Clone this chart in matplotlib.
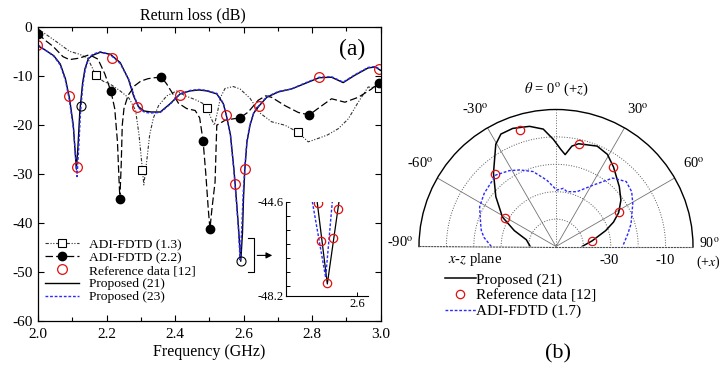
import numpy as np
import matplotlib
matplotlib.use('Agg')
import matplotlib.pyplot as plt
from matplotlib.ticker import MultipleLocator, FixedLocator

plt.rcParams['font.family'] = ['Liberation Serif', 'DejaVu Serif']
plt.rcParams['mathtext.fontset'] = 'stix'
plt.rcParams['axes.unicode_minus'] = False

# ---------------- (a) Return loss data ----------------
f21 = [2.000, 2.020, 2.046, 2.065, 2.080, 2.092, 2.103, 2.112, 2.117, 2.122,
       2.130, 2.137, 2.147, 2.160, 2.182, 2.211, 2.240, 2.264, 2.279, 2.293,
       2.310, 2.330, 2.357, 2.386, 2.415, 2.444, 2.470, 2.493, 2.522, 2.541,
       2.550, 2.562, 2.572, 2.578, 2.585, 2.592, 2.597, 2.600, 2.604, 2.610,
       2.619, 2.630, 2.645, 2.668, 2.702, 2.740, 2.779, 2.821, 2.857, 2.891,
       2.925, 2.964, 2.985, 3.000]
db21 = [-3.8, -4.6, -5.8, -7.5, -10.5, -14.5, -20.0, -29.0, -24.0, -17.3,
        -11.5, -8.5, -6.4, -5.7, -5.1, -5.5, -7.2, -10.6, -14.0, -16.2,
        -17.1, -17.3, -17.3, -15.6, -13.6, -13.0, -12.8, -13.0, -13.6, -15.6,
        -18.0, -22.0, -29.0, -34.0, -40.5, -47.8, -42.0, -35.0, -28.9, -23.5,
        -20.0, -17.5, -16.1, -14.3, -13.2, -12.6, -11.5, -10.3, -10.2, -11.3,
        -9.8, -8.3, -8.1, -8.8]

f23 = [2.000, 2.020, 2.046, 2.065, 2.080, 2.092, 2.104, 2.114, 2.119, 2.124,
       2.131, 2.138, 2.148, 2.160, 2.182, 2.211, 2.240, 2.266, 2.282, 2.296,
       2.312, 2.330, 2.357, 2.386, 2.415, 2.444, 2.470, 2.493, 2.522, 2.541,
       2.550, 2.562, 2.572, 2.578, 2.585, 2.590, 2.595, 2.599, 2.604, 2.610,
       2.619, 2.630, 2.645, 2.668, 2.702, 2.740, 2.779, 2.821, 2.857, 2.891,
       2.925, 2.964, 2.985, 3.000]
db23 = [-3.6, -4.6, -5.9, -7.7, -10.8, -15.0, -21.0, -30.5, -24.5, -17.5,
        -11.8, -8.6, -6.3, -5.5, -5.0, -5.6, -7.4, -10.8, -14.3, -16.6,
        -17.4, -17.5, -17.4, -15.7, -13.6, -12.9, -12.7, -12.9, -13.5, -15.5,
        -18.0, -22.2, -29.3, -34.5, -41.0, -47.5, -41.0, -34.0, -28.5, -23.2,
        -19.8, -17.4, -16.0, -14.2, -13.1, -12.6, -11.4, -10.2, -10.1, -11.2,
        -9.7, -8.2, -8.0, -8.7]

fref = [1.997, 2.091, 2.113, 2.215, 2.290, 2.416, 2.549, 2.576, 2.604, 2.645, 2.821, 2.997]
dbref = [-3.7, -14.1, -28.5, -6.2, -16.3, -13.8, -17.9, -32.0, -29.0, -16.1, -10.2, -8.6]

fblk = [2.127, 2.593]
dbblk = [-16.0, -47.8]

f22 = [2.000, 2.020, 2.044, 2.073, 2.092, 2.121, 2.150, 2.175, 2.195, 2.213,
       2.224, 2.232, 2.236, 2.239, 2.243, 2.246, 2.251, 2.263, 2.283, 2.300,
       2.321, 2.340, 2.360, 2.375, 2.391, 2.410, 2.434, 2.459, 2.472, 2.482,
       2.490, 2.497, 2.502, 2.508, 2.517, 2.522, 2.546, 2.570, 2.590, 2.614,
       2.643, 2.665, 2.682, 2.721, 2.760, 2.792, 2.823, 2.857, 2.896, 2.935,
       2.974, 2.995]
db22 = [-1.3, -2.6, -3.9, -6.0, -6.6, -6.3, -5.6, -6.5, -9.5, -13.1,
        -16.6, -23.4, -30.2, -35.0, -28.0, -20.0, -16.6, -13.9, -11.9, -11.0,
        -10.5, -10.3, -10.2, -11.5, -13.3, -15.5, -16.6, -17.0, -18.5, -23.2,
        -30.0, -37.0, -41.2, -37.0, -31.6, -20.0, -19.0, -18.7, -18.5, -17.3,
        -14.9, -14.0, -14.3, -16.0, -17.4, -17.9, -16.3, -14.6, -15.3, -14.3,
        -12.6, -11.3]
f22m = [2.000, 2.213, 2.239, 2.360, 2.482, 2.502, 2.590, 2.792, 2.995]
db22m = [-1.3, -13.1, -35.0, -10.2, -23.2, -41.2, -18.5, -17.9, -11.3]

f13 = [2.000, 2.053, 2.092, 2.121, 2.145, 2.169, 2.190, 2.215, 2.240, 2.266,
       2.285, 2.295, 2.302, 2.309, 2.318, 2.326, 2.337, 2.352, 2.376, 2.405,
       2.430, 2.460, 2.480, 2.493, 2.505, 2.515, 2.525, 2.533, 2.546, 2.570,
       2.590, 2.619, 2.648, 2.682, 2.721, 2.758, 2.789, 2.818, 2.845, 2.877,
       2.906, 2.935, 2.964, 2.995]
db13 = [-0.3, -2.9, -4.9, -5.5, -6.3, -9.8, -11.0, -11.8, -13.0, -14.5,
        -17.0, -22.0, -27.0, -32.2, -27.0, -22.0, -18.5, -16.0, -14.0, -13.0,
        -14.0, -14.8, -15.5, -16.5, -18.5, -20.0, -17.0, -14.3, -12.5, -12.1,
        -12.6, -14.5, -17.5, -19.3, -20.0, -21.4, -23.4, -22.7, -22.0, -20.7,
        -18.7, -15.3, -12.2, -12.4]
f13m = [2.169, 2.304, 2.493, 2.758, 2.995]
db13m = [-9.8, -29.2, -16.5, -21.4, -12.4]

# inset (zoom of second resonance)
ins_f21 = [2.5879, 2.5910, 2.5945]
ins_db21 = [-44.55, -47.75, -44.6]
ins_f23 = [2.5865, 2.5905, 2.5925]
ins_db23 = [-44.6, -47.5, -44.6]
ins_fref = [2.5881, 2.5891, 2.5910, 2.5928, 2.5941]
ins_dbref = [-44.66, -46.11, -47.73, -46.0, -44.88]

# ---------------- (b) Radiation pattern data ----------------
th21 = [90, 81.0, 72.3, 67.0, 61.6, 54.5, 46.6, 35.9, 29.2, 22.3, 12.4, 9.0, 5.7,
        2.8, -1.4, -6.2, -12.4, -20.1, -26.1, -30.5, -40.4, -50.4, -61.2,
        -69.1, -77.2, -90]
r21 = [-40.5, -36.6, -31.0, -27.2, -24.0, -20.9, -18.2, -14.2, -11.5, -10.4, -11.6,
       -12.9, -16.3, -14.5, -10.9, -6.9, -5.1, -4.1, -4.3, -6.7, -14.8, -21.5,
       -27.7, -33.7, -38.9, -40.6]
th_ref = [-60.5, -40.2, -17.1, 12.4, 35.6, 61.4, 81.0]
r_ref = [-28.7, -15.4, -5.4, -11.6, -14.3, -24.0, -36.6]
th17 = [-90, -82.8, -77.8, -73.3, -62.6, -53.5, -40.0, -31.6, -25.3, -17.0, -8.0,
        0.7, 7.2, 11.2, 20.9, 31.4, 39.6, 47.2, 54.1, 60.8, 73.2, 80.1, 90]
r17 = [-26.4, -23.5, -22.1, -21.3, -18.6, -17.4, -15.9, -17.5, -19.1, -21.4,
       -25.5, -29.4, -28.6, -29.6, -28.6, -23.7, -17.6, -15.1, -15.9, -17.9,
       -21.4, -23.4, -25.7]
ring_values = [-40, -30, -20, -10]
spoke_angles = [-60, -30, 30, 60]

W, H = 722, 368
fig = plt.figure(figsize=(W / 100, H / 100), dpi=100)


def fx(px):
    return px / W


def fy(py):
    return 1 - py / H


# ---------------- panel (a) ----------------
L, R_, T, B = 38.0, 380.5, 27.3, 321.0
ax = fig.add_axes([fx(L), fy(B), (R_ - L) / W, (B - T) / H])
l13, = ax.plot(f13, db13, color='0.2', lw=0.8, ls=(0, (3, 1.5, 1, 1.5, 1, 1.5)))
l22, = ax.plot(f22, db22, color='black', lw=0.9, ls=(0, (6, 2.5)))
p21, = ax.plot(f21, db21, color='black', lw=1.0, label='Proposed (21)')
p23, = ax.plot(f23, db23, color='#2a2aff', lw=1.0, ls=(0, (2, 1.3)), label='Proposed (23)')
m13, = ax.plot(f13m, db13m, ls='none', marker='s', ms=5.5, mfc='white', mec='black', mew=0.8)
m22, = ax.plot(f22m, db22m, ls='none', marker='o', ms=6, mfc='black', mec='black')
ax.plot(fblk, dbblk, ls='none', marker='o', ms=6.5, mfc='none', mec='black', mew=0.8)
ref, = ax.plot(fref, dbref, ls='none', marker='o', ms=7, mfc='none', mec='#e01010', mew=0.9)

ax.set_xlim(2.0, 3.0)
ax.set_ylim(-60, 0)
ax.xaxis.set_major_locator(MultipleLocator(0.2))
ax.xaxis.set_minor_locator(MultipleLocator(0.1))
ax.yaxis.set_major_locator(MultipleLocator(10))
ax.tick_params(which='both', direction='in', top=True, right=True, labelsize=11)
ax.tick_params(which='major', length=4, width=0.8)
ax.tick_params(which='minor', length=3, width=0.8)
ax.tick_params(axis='x', pad=5)
ax.tick_params(axis='y', pad=4)
for s in ax.spines.values():
    s.set_linewidth(0.9)
ax.set_xlabel('Frequency (GHz)', fontsize=11.5, labelpad=2)
fig.text(fx(193), fy(15), 'Return loss (dB)', fontsize=11.5, ha='center', va='center')
ax.text(2.955, -4.6, '(a)', fontsize=17, ha='right', va='center')

# bracket + arrow pointing to the inset
ax.plot([2.614, 2.632, 2.632, 2.614], [-43.0, -43.0, -50.0, -50.0], color='black', lw=0.8)
ax.annotate('', xy=(2.692, -46.6), xytext=(2.632, -46.6),
            arrowprops=dict(arrowstyle='-|>', color='black', lw=0.8, mutation_scale=9))

leg = ax.legend([(l13, m13), (l22, m22), ref, p21, p23],
                ['ADI-FDTD (1.3)', 'ADI-FDTD (2.2)', 'Reference data [12]',
                 'Proposed (21)', 'Proposed (23)'],
                loc='upper left', bbox_to_anchor=(fx(45), fy(238.5)),
                bbox_transform=fig.transFigure, frameon=False, fontsize=9.7,
                handlelength=2.5, handletextpad=0.8, labelspacing=0.05,
                borderpad=0, borderaxespad=0, numpoints=1)

# inset
ia_l, ia_r, ia_t, ia_b = 286.0, 368.3, 201.7, 295.7
axi = fig.add_axes([fx(ia_l), fy(ia_b), (ia_r - ia_l) / W, (ia_b - ia_t) / H])
axi.patch.set_visible(False)
axi.plot(ins_f21, ins_db21, color='black', lw=0.9)
axi.plot(ins_f23, ins_db23, color='#2a2aff', lw=1.0, ls=(0, (2, 1.3)))
axi.plot(ins_fref, ins_dbref, ls='none', marker='o', ms=6, mfc='none', mec='#e01010', mew=0.9)
axi.set_xlim(2.5786, 2.6033)
axi.set_ylim(-48.2, -44.6)
axi.spines['top'].set_visible(False)
axi.spines['right'].set_visible(False)
axi.set_yticks([-44.6, -48.2])
axi.set_yticklabels(['-44.6', '-48.2'])
axi.yaxis.set_minor_locator(FixedLocator([-45.14, -45.67, -46.21, -46.74, -47.28, -47.81]))
axi.set_xticks([2.6])
axi.set_xticklabels(['2.6'])
axi.tick_params(which='both', direction='in', labelsize=9, length=3, width=0.7, pad=2)
for s in axi.spines.values():
    s.set_linewidth(0.8)

# ---------------- panel (b) ----------------
cx, cy, Rp = 556.0, 246.5, 137.0
axp = fig.add_axes([fx(cx - Rp), fy(cy + Rp / 2), 2 * Rp / W, 2 * Rp / H], projection='polar')
axp.set_theta_zero_location('N')
axp.set_theta_direction(-1)
axp.set_thetamin(-90)
axp.set_thetamax(90)
axp.set_ylim(-50, 0)
axp.grid(False)
axp.set_xticks([])
axp.set_yticks([])
axp.patch.set_visible(False)
axp.spines['polar'].set_linewidth(1.0)
axp.spines['inner'].set_visible(False)
for k in ('start', 'end'):
    axp.spines[k].set_linestyle(':')
    axp.spines[k].set_linewidth(0.8)
    axp.spines[k].set_color('0.3')

arc = np.radians(np.linspace(-90, 90, 241))
for rv in ring_values:
    axp.plot(arc, np.full_like(arc, rv), color='0.35', lw=0.7, ls=':')
for a in spoke_angles:
    axp.plot([np.radians(a)] * 2, [-50, 0], color='0.45', lw=0.6)
axp.plot([0, 0], [-50, 0], color='0.4', lw=0.7, ls=':')

pp21, = axp.plot(np.radians(th21), r21, color='black', lw=1.1, label='Proposed (21)')
ppref, = axp.plot(np.radians(th_ref), r_ref, ls='none', marker='o', ms=6, mfc='none',
                  mec='#e01010', mew=0.9, label='Reference data [12]')
pp17, = axp.plot(np.radians(th17), r17, color='#2a2aff', lw=1.0, ls=(0, (2, 1.3)),
                 label='ADI-FDTD (1.7)')

axp.legend(handles=[pp21, ppref, pp17], loc='upper left',
           bbox_to_anchor=(fx(445), fy(273)), bbox_transform=fig.transFigure,
           frameon=False, fontsize=11, handlelength=2.0, handletextpad=0.05,
           labelspacing=0.12, borderpad=0, borderaxespad=0, numpoints=1)

deg = r'$^{\rm o}$'
fs_p = 10.5
fig.text(fx(556), fy(89), r'$\theta$ = 0' + deg + r' (+$z$)', fontsize=fs_p, ha='center', va='center')
fig.text(fx(475), fy(110), '-30' + deg, fontsize=fs_p, ha='center', va='center')
fig.text(fx(638), fy(110), '30' + deg, fontsize=fs_p, ha='center', va='center')
fig.text(fx(433), fy(164), '-60' + deg, fontsize=fs_p, ha='right', va='center')
fig.text(fx(683), fy(164), '60' + deg, fontsize=fs_p, ha='left', va='center')
fig.text(fx(413), fy(243), '-90' + deg, fontsize=fs_p, ha='right', va='center')
fig.text(fx(720), fy(243), '90' + deg, fontsize=10, ha='right', va='center')
fig.text(fx(721), fy(262), r'(+$x$)', fontsize=10, ha='right', va='center')
fig.text(fx(475), fy(260), r'$x$-$z$ plane', fontsize=fs_p, ha='center', va='center')
fig.text(fx(609), fy(260), '-30', fontsize=fs_p, ha='center', va='center')
fig.text(fx(665), fy(260), '-10', fontsize=fs_p, ha='center', va='center')
fig.text(fx(558), fy(354), '(b)', fontsize=16, ha='center', va='center')

fig.savefig('out.png', dpi=100)
